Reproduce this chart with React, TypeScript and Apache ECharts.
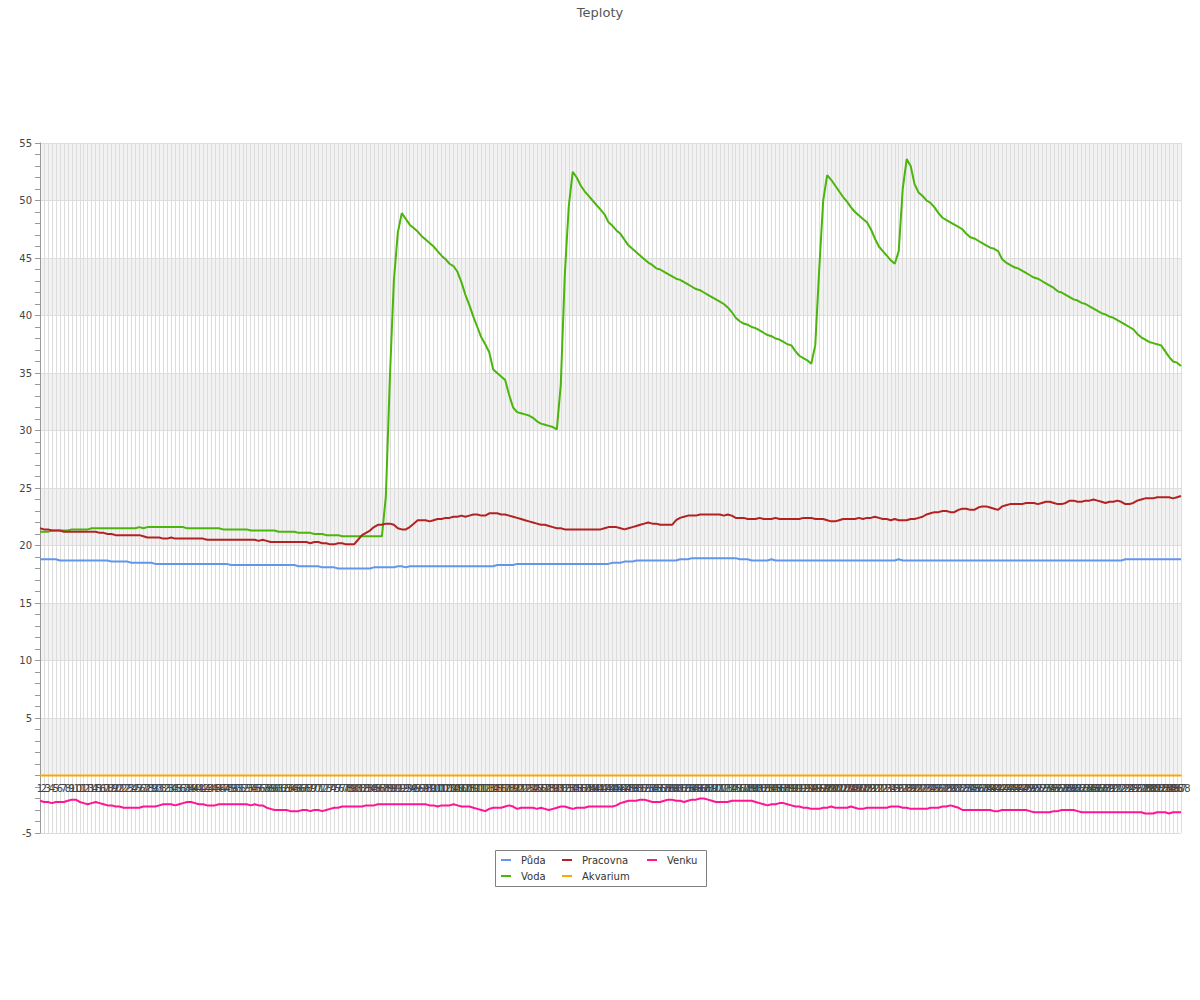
import React, { useEffect, useRef } from "react";
import * as echarts from "echarts";

const FONT = "'DejaVu Sans', sans-serif";

const categories: string[] = Array.from({ length: 288 }, (_, i) => String(i + 1));

const yTicks = { min: -5, max: 55, interval: 5 };

const puda = [
  18.8,18.8,18.8,18.8,18.8,18.7,18.7,18.7,18.7,18.7,18.7,18.7,18.7,18.7,18.7,18.7,18.7,18.7,18.6,18.6,18.6,18.6,18.6,18.5,
  18.5,18.5,18.5,18.5,18.5,18.4,18.4,18.4,18.4,18.4,18.4,18.4,18.4,18.4,18.4,18.4,18.4,18.4,18.4,18.4,18.4,18.4,18.4,18.4,
  18.3,18.3,18.3,18.3,18.3,18.3,18.3,18.3,18.3,18.3,18.3,18.3,18.3,18.3,18.3,18.3,18.3,18.2,18.2,18.2,18.2,18.2,18.2,18.1,
  18.1,18.1,18.1,18.0,18.0,18.0,18.0,18.0,18.0,18.0,18.0,18.0,18.1,18.1,18.1,18.1,18.1,18.1,18.2,18.2,18.1,18.2,18.2,18.2,
  18.2,18.2,18.2,18.2,18.2,18.2,18.2,18.2,18.2,18.2,18.2,18.2,18.2,18.2,18.2,18.2,18.2,18.2,18.2,18.3,18.3,18.3,18.3,18.3,
  18.4,18.4,18.4,18.4,18.4,18.4,18.4,18.4,18.4,18.4,18.4,18.4,18.4,18.4,18.4,18.4,18.4,18.4,18.4,18.4,18.4,18.4,18.4,18.4,
  18.5,18.5,18.5,18.6,18.6,18.6,18.7,18.7,18.7,18.7,18.7,18.7,18.7,18.7,18.7,18.7,18.7,18.8,18.8,18.8,18.9,18.9,18.9,18.9,
  18.9,18.9,18.9,18.9,18.9,18.9,18.9,18.9,18.8,18.8,18.8,18.7,18.7,18.7,18.7,18.7,18.8,18.7,18.7,18.7,18.7,18.7,18.7,18.7,
  18.7,18.7,18.7,18.7,18.7,18.7,18.7,18.7,18.7,18.7,18.7,18.7,18.7,18.7,18.7,18.7,18.7,18.7,18.7,18.7,18.7,18.7,18.7,18.7,
  18.8,18.7,18.7,18.7,18.7,18.7,18.7,18.7,18.7,18.7,18.7,18.7,18.7,18.7,18.7,18.7,18.7,18.7,18.7,18.7,18.7,18.7,18.7,18.7,
  18.7,18.7,18.7,18.7,18.7,18.7,18.7,18.7,18.7,18.7,18.7,18.7,18.7,18.7,18.7,18.7,18.7,18.7,18.7,18.7,18.7,18.7,18.7,18.7,
  18.7,18.7,18.7,18.7,18.7,18.7,18.7,18.7,18.7,18.8,18.8,18.8,18.8,18.8,18.8,18.8,18.8,18.8,18.8,18.8,18.8,18.8,18.8,18.8,
];

const voda = [
  21.2,21.2,21.2,21.3,21.3,21.3,21.3,21.3,21.4,21.4,21.4,21.4,21.4,21.5,21.5,21.5,21.5,21.5,21.5,21.5,21.5,21.5,21.5,21.5,
  21.5,21.6,21.5,21.6,21.6,21.6,21.6,21.6,21.6,21.6,21.6,21.6,21.6,21.5,21.5,21.5,21.5,21.5,21.5,21.5,21.5,21.5,21.4,21.4,
  21.4,21.4,21.4,21.4,21.4,21.3,21.3,21.3,21.3,21.3,21.3,21.3,21.2,21.2,21.2,21.2,21.2,21.1,21.1,21.1,21.1,21.0,21.0,21.0,
  20.9,20.9,20.9,20.9,20.8,20.8,20.8,20.8,20.8,20.8,20.8,20.8,20.8,20.8,20.8,24.3,34.5,43.0,47.2,48.9,48.4,47.9,47.6,47.3,
  46.9,46.6,46.3,46.0,45.6,45.2,44.9,44.5,44.3,43.8,42.9,41.8,40.9,39.9,39.0,38.1,37.5,36.8,35.3,35.0,34.7,34.4,33.1,32.0,
  31.6,31.5,31.4,31.3,31.1,30.8,30.6,30.5,30.4,30.3,30.1,34.0,43.5,49.5,52.5,52.0,51.3,50.8,50.4,50.0,49.6,49.2,48.8,48.1,
  47.8,47.4,47.1,46.6,46.1,45.8,45.5,45.2,44.9,44.6,44.4,44.1,44.0,43.8,43.6,43.4,43.2,43.1,42.9,42.7,42.5,42.3,42.2,42.0,
  41.8,41.6,41.4,41.2,41.0,40.7,40.3,39.8,39.5,39.3,39.2,39.0,38.9,38.7,38.5,38.3,38.2,38.0,37.9,37.7,37.5,37.4,36.9,36.5,
  36.3,36.1,35.8,37.4,44.0,50.0,52.2,51.8,51.3,50.8,50.3,49.9,49.4,49.0,48.7,48.4,48.1,47.5,46.7,46.0,45.6,45.2,44.8,44.5,
  45.6,51.0,53.6,53.0,51.4,50.7,50.4,50.0,49.8,49.4,48.9,48.5,48.3,48.1,47.9,47.7,47.5,47.1,46.8,46.7,46.5,46.3,46.1,45.9,
  45.8,45.6,44.9,44.6,44.4,44.2,44.1,43.9,43.7,43.5,43.3,43.2,43.0,42.8,42.6,42.4,42.1,42.0,41.8,41.6,41.4,41.3,41.1,41.0,
  40.8,40.6,40.4,40.2,40.1,39.9,39.8,39.6,39.4,39.2,39.0,38.8,38.4,38.1,37.9,37.7,37.6,37.5,37.4,36.9,36.4,36.0,35.9,35.6,
];

const pracovna = [
  21.5,21.4,21.4,21.3,21.3,21.3,21.2,21.2,21.2,21.2,21.2,21.2,21.2,21.2,21.2,21.1,21.1,21.0,21.0,20.9,20.9,20.9,20.9,20.9,
  20.9,20.9,20.8,20.7,20.7,20.7,20.7,20.6,20.6,20.7,20.6,20.6,20.6,20.6,20.6,20.6,20.6,20.6,20.5,20.5,20.5,20.5,20.5,20.5,
  20.5,20.5,20.5,20.5,20.5,20.5,20.5,20.4,20.5,20.4,20.3,20.3,20.3,20.3,20.3,20.3,20.3,20.3,20.3,20.3,20.2,20.3,20.3,20.2,
  20.2,20.1,20.1,20.2,20.2,20.1,20.1,20.1,20.5,20.9,21.1,21.3,21.6,21.8,21.8,21.9,21.9,21.8,21.5,21.4,21.4,21.6,21.9,22.2,
  22.2,22.2,22.1,22.2,22.3,22.3,22.4,22.4,22.5,22.5,22.6,22.5,22.6,22.7,22.7,22.6,22.6,22.8,22.8,22.8,22.7,22.7,22.6,22.5,
  22.4,22.3,22.2,22.1,22.0,21.9,21.8,21.8,21.7,21.6,21.5,21.5,21.4,21.4,21.4,21.4,21.4,21.4,21.4,21.4,21.4,21.4,21.5,21.6,
  21.6,21.6,21.5,21.4,21.5,21.6,21.7,21.8,21.9,22.0,21.9,21.9,21.8,21.8,21.8,21.8,22.2,22.4,22.5,22.6,22.6,22.6,22.7,22.7,
  22.7,22.7,22.7,22.7,22.6,22.7,22.6,22.4,22.4,22.4,22.3,22.3,22.3,22.4,22.3,22.3,22.3,22.4,22.3,22.3,22.3,22.3,22.3,22.3,
  22.4,22.4,22.4,22.3,22.3,22.3,22.2,22.1,22.1,22.2,22.3,22.3,22.3,22.3,22.4,22.3,22.4,22.4,22.5,22.4,22.3,22.3,22.2,22.3,
  22.2,22.2,22.2,22.3,22.3,22.4,22.5,22.7,22.8,22.9,22.9,23.0,23.0,22.9,22.9,23.1,23.2,23.2,23.1,23.1,23.3,23.4,23.4,23.3,
  23.2,23.1,23.4,23.5,23.6,23.6,23.6,23.6,23.7,23.7,23.7,23.6,23.7,23.8,23.8,23.7,23.6,23.6,23.7,23.9,23.9,23.8,23.8,23.9,
  23.9,24.0,23.9,23.8,23.7,23.8,23.8,23.9,23.8,23.6,23.6,23.7,23.9,24.0,24.1,24.1,24.1,24.2,24.2,24.2,24.2,24.1,24.2,24.3,
];

const akvarium = [
  0,0,0,0,0,0,0,0,0,0,0,0,0,0,0,0,0,0,0,0,0,0,0,0,
  0,0,0,0,0,0,0,0,0,0,0,0,0,0,0,0,0,0,0,0,0,0,0,0,
  0,0,0,0,0,0,0,0,0,0,0,0,0,0,0,0,0,0,0,0,0,0,0,0,
  0,0,0,0,0,0,0,0,0,0,0,0,0,0,0,0,0,0,0,0,0,0,0,0,
  0,0,0,0,0,0,0,0,0,0,0,0,0,0,0,0,0,0,0,0,0,0,0,0,
  0,0,0,0,0,0,0,0,0,0,0,0,0,0,0,0,0,0,0,0,0,0,0,0,
  0,0,0,0,0,0,0,0,0,0,0,0,0,0,0,0,0,0,0,0,0,0,0,0,
  0,0,0,0,0,0,0,0,0,0,0,0,0,0,0,0,0,0,0,0,0,0,0,0,
  0,0,0,0,0,0,0,0,0,0,0,0,0,0,0,0,0,0,0,0,0,0,0,0,
  0,0,0,0,0,0,0,0,0,0,0,0,0,0,0,0,0,0,0,0,0,0,0,0,
  0,0,0,0,0,0,0,0,0,0,0,0,0,0,0,0,0,0,0,0,0,0,0,0,
  0,0,0,0,0,0,0,0,0,0,0,0,0,0,0,0,0,0,0,0,0,0,0,0,
];

const venku = [
  -2.2,-2.3,-2.3,-2.4,-2.3,-2.3,-2.3,-2.2,-2.1,-2.1,-2.3,-2.4,-2.5,-2.4,-2.3,-2.4,-2.5,-2.6,-2.6,-2.7,-2.7,-2.8,-2.8,-2.8,
  -2.8,-2.8,-2.7,-2.7,-2.7,-2.7,-2.6,-2.5,-2.5,-2.5,-2.6,-2.5,-2.4,-2.3,-2.3,-2.4,-2.5,-2.5,-2.6,-2.6,-2.6,-2.5,-2.5,-2.5,
  -2.5,-2.5,-2.5,-2.5,-2.5,-2.6,-2.5,-2.6,-2.6,-2.8,-2.9,-3.0,-3.0,-3.0,-3.0,-3.1,-3.1,-3.1,-3.0,-3.0,-3.1,-3.0,-3.0,-3.1,
  -3.0,-2.9,-2.8,-2.8,-2.7,-2.7,-2.7,-2.7,-2.7,-2.7,-2.6,-2.6,-2.6,-2.5,-2.5,-2.5,-2.5,-2.5,-2.5,-2.5,-2.5,-2.5,-2.5,-2.5,
  -2.5,-2.5,-2.6,-2.6,-2.7,-2.6,-2.6,-2.6,-2.5,-2.6,-2.7,-2.7,-2.7,-2.8,-2.9,-3.0,-3.1,-2.9,-2.8,-2.8,-2.8,-2.7,-2.6,-2.7,
  -2.9,-2.8,-2.8,-2.8,-2.8,-2.9,-2.8,-2.9,-3.0,-2.9,-2.8,-2.7,-2.7,-2.8,-2.9,-2.8,-2.8,-2.8,-2.7,-2.7,-2.7,-2.7,-2.7,-2.7,
  -2.7,-2.6,-2.4,-2.3,-2.2,-2.2,-2.2,-2.1,-2.1,-2.2,-2.3,-2.3,-2.3,-2.2,-2.1,-2.1,-2.2,-2.2,-2.3,-2.2,-2.1,-2.1,-2.0,-2.0,
  -2.1,-2.2,-2.3,-2.3,-2.3,-2.3,-2.2,-2.2,-2.2,-2.2,-2.2,-2.2,-2.3,-2.4,-2.5,-2.6,-2.5,-2.5,-2.4,-2.4,-2.5,-2.6,-2.7,-2.7,
  -2.8,-2.8,-2.9,-2.9,-2.9,-2.8,-2.8,-2.7,-2.8,-2.8,-2.8,-2.8,-2.7,-2.8,-2.9,-2.9,-2.8,-2.8,-2.8,-2.8,-2.8,-2.8,-2.7,-2.7,
  -2.7,-2.8,-2.8,-2.9,-2.9,-2.9,-2.9,-2.9,-2.8,-2.8,-2.8,-2.7,-2.7,-2.6,-2.7,-2.8,-3.0,-3.0,-3.0,-3.0,-3.0,-3.0,-3.0,-3.0,
  -3.1,-3.1,-3.0,-3.0,-3.0,-3.0,-3.0,-3.0,-3.0,-3.1,-3.2,-3.2,-3.2,-3.2,-3.2,-3.1,-3.1,-3.0,-3.0,-3.0,-3.0,-3.1,-3.2,-3.2,
  -3.2,-3.2,-3.2,-3.2,-3.2,-3.2,-3.2,-3.2,-3.2,-3.2,-3.2,-3.2,-3.2,-3.2,-3.3,-3.3,-3.3,-3.2,-3.2,-3.2,-3.3,-3.2,-3.2,-3.2,
];

const seriesNames = ["Půda", "Voda", "Pracovna", "Akvarium", "Venku"];
const seriesColors = ["#6495ED", "#4CB50C", "#B22222", "#FFA500", "#FF1493"];
const seriesData = [puda, voda, pracovna, akvarium, venku];

const legendColumns = [
  { names: ["Půda", "Voda"], left: 501 },
  { names: ["Pracovna", "Akvarium"], left: 562 },
  { names: ["Venku"], left: 647 },
];

const CHART_W = 1200;
const CHART_H = 992;

export default function App() {
  const ref = useRef<HTMLDivElement>(null);

  useEffect(() => {
    if (!ref.current) return;
    const chart = echarts.init(ref.current, null, { renderer: "svg" });

    const legendBase = {
      orient: "vertical",
      top: 855,
      padding: 0,
      icon: "rect",
      itemWidth: 10,
      itemHeight: 2,
      itemGap: 6,
      textStyle: {
        fontSize: 10,
        color: "#333",
        fontFamily: FONT,
        padding: [0, 0, 0, 5],
      },
    };

    const option: any = {
      animation: false,
      backgroundColor: "#ffffff",
      textStyle: { fontFamily: FONT },
      title: {
        text: "Teploty",
        left: "center",
        top: 5,
        padding: 0,
        textStyle: {
          fontSize: 13,
          fontWeight: "normal",
          color: "#555",
          fontFamily: FONT,
          lineHeight: 14,
        },
      },
      grid: {
        left: 40,
        right: 19,
        top: 143,
        bottom: CHART_H - 833,
        containLabel: false,
        outerBoundsMode: "none",
      },
      tooltip: { show: false },
      legend: legendColumns.map((c) => ({
        ...legendBase,
        left: c.left,
        data: c.names,
      })),
      graphic: [
        {
          type: "rect",
          shape: { x: 495.5, y: 850.5, width: 211, height: 36 },
          style: { fill: "none", stroke: "#808080", lineWidth: 1 },
          silent: true,
          z: 100,
        },
      ],
      xAxis: {
        type: "category",
        data: categories,
        boundaryGap: false,
        offset: -57.5,
        axisLine: { show: true, onZero: false, lineStyle: { color: "#888", width: 1 } },
        axisTick: { show: false },
        axisLabel: {
          interval: 0,
          fontSize: 10,
          color: "#444",
          fontFamily: FONT,
          margin: 8,
          hideOverlap: false,
        },
        splitLine: { show: true, interval: 0, lineStyle: { color: "#dddddd", width: 1 } },
        splitArea: { show: false },
      },
      yAxis: {
        type: "value",
        min: yTicks.min,
        max: yTicks.max,
        interval: yTicks.interval,
        axisLine: { show: true, lineStyle: { color: "#999", width: 1 } },
        axisTick: { show: true, length: 5, lineStyle: { color: "#999" } },
        minorTick: { show: true, splitNumber: 5, length: 5, lineStyle: { color: "#999" } },
        minorSplitLine: { show: false },
        axisLabel: {
          fontSize: 10,
          color: "#444",
          fontFamily: FONT,
          margin: 8,
          formatter: (v: number) => (v === 0 ? "" : String(v)),
        },
        splitLine: { show: true, lineStyle: { color: "#dddddd", width: 1 } },
        splitArea: { show: true, areaStyle: { color: ["#ffffff", "#f2f2f2"] } },
      },
      series: seriesNames.map((name, i) => ({
        name,
        type: "line",
        data: seriesData[i],
        symbol: "none",
        showSymbol: false,
        smooth: false,
        lineStyle: { width: 2, color: seriesColors[i] },
        itemStyle: { color: seriesColors[i] },
        emphasis: { disabled: true },
      })),
    };

    chart.setOption(option);
    return () => chart.dispose();
  }, []);

  return (
    <div
      ref={ref}
      style={{ marginLeft: -8, marginTop: -8, width: CHART_W, height: CHART_H }}
    />
  );
}
